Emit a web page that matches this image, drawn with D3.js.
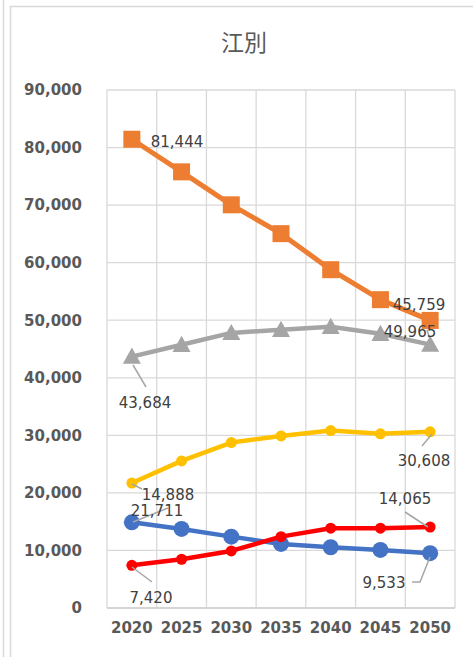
<!DOCTYPE html>
<html><head><meta charset="utf-8">
<script src="https://cdn.jsdelivr.net/npm/d3@7"></script>
<style>body{margin:0;background:#fff;}svg{display:block;}</style>
</head><body>
<script>
const years = ["2020","2025","2030","2035","2040","2045","2050"];
const yTicks = [0,10000,20000,30000,40000,50000,60000,70000,80000,90000];
const blue   = [14888,13740,12400,11130,10550,10090,9533];
const orange = [81444,75780,70050,65040,58780,53570,49965];
const gray   = [43684,45740,47800,48350,48870,47650,45759];
const yellow = [21711,25560,28750,29900,30830,30260,30608];
const red    = [7420,8470,9910,12400,13860,13860,14065];
const title = "江別";

const W=473,H=657;
const svg=d3.select("body").append("svg").attr("width",W).attr("height",H);
// frame
svg.append("line").attr("x1",3.5).attr("x2",3.5).attr("y1",0).attr("y2",H).attr("stroke","#d9d9d9").attr("stroke-width",1.5);
svg.append("line").attr("x1",10.5).attr("x2",10.5).attr("y1",6).attr("y2",H).attr("stroke","#d9d9d9").attr("stroke-width",1.5);
svg.append("line").attr("x1",10).attr("x2",W).attr("y1",6.5).attr("y2",6.5).attr("stroke","#d9d9d9").attr("stroke-width",1.5);

svg.append("text").attr("x",244).attr("y",51).attr("text-anchor","middle")
  .attr("font-family","'Noto Sans CJK JP'").attr("font-size",23).attr("fill","#595959").text(title);

const x=d3.scaleBand().domain(years).range([107,455]);
const y=d3.scaleLinear().domain([0,90000]).range([608,90]);
const cx=d=>x(d)+x.bandwidth()/2;

const g=svg.append("g");
g.selectAll(".hg").data(yTicks).join("line").attr("x1",107).attr("x2",455)
  .attr("y1",d=>y(d)).attr("y2",d=>y(d)).attr("stroke","#d9d9d9").attr("stroke-width",1.3);
const bounds=years.map(d=>x(d)).concat([455]);
g.selectAll(".vg").data(bounds).join("line").attr("x1",d=>d).attr("x2",d=>d)
  .attr("y1",90).attr("y2",608).attr("stroke","#d9d9d9").attr("stroke-width",1.3);

const ya=d3.axisLeft(y).tickValues(yTicks).tickFormat(d3.format(",")).tickSize(0).tickPadding(0);
const yg=svg.append("g").attr("transform","translate(82,0)").call(ya);
yg.select(".domain").remove();
yg.selectAll("text").attr("font-family","'DejaVu Sans'").attr("font-weight","bold").attr("font-size",15).attr("fill","#595959");
const xa=d3.axisBottom(x).tickSize(0).tickPadding(0);
const xg=svg.append("g").attr("transform","translate(0,622)").call(xa);
xg.select(".domain").remove();
xg.selectAll("text").attr("font-family","'DejaVu Sans'").attr("font-weight","bold").attr("font-size",15).attr("fill","#595959");
svg.append("line").attr("x1",107).attr("x2",455).attr("y1",608).attr("y2",608).attr("stroke","#d0d0d0").attr("stroke-width",1.5);

const series=[
  {v:blue,c:"#4472C4",m:"circle",r:8,w:4.5},
  {v:orange,c:"#ED7D31",m:"square",r:8.5,w:5},
  {v:gray,c:"#A5A5A5",m:"triangle",r:9,w:4.5},
  {v:yellow,c:"#FFC000",m:"circle",r:5.5,w:4.5},
  {v:red,c:"#FF0000",m:"circle",r:5.5,w:4.5}
];
const line=d3.line().x((d,i)=>cx(years[i])).y(d=>y(d));
series.forEach(s=>{
  svg.append("path").attr("d",line(s.v)).attr("fill","none").attr("stroke",s.c).attr("stroke-width",s.w).attr("stroke-linejoin","round");
  const pts=svg.append("g");
  s.v.forEach((d,i)=>{
    const px=cx(years[i]),py=y(d);
    if(s.m==="circle") pts.append("circle").attr("cx",px).attr("cy",py).attr("r",s.r).attr("fill",s.c);
    else if(s.m==="square") pts.append("rect").attr("x",px-s.r).attr("y",py-s.r).attr("width",2*s.r).attr("height",2*s.r).attr("fill",s.c);
    else pts.append("path").attr("d",`M${px},${py-s.r}L${px+s.r},${py+s.r*0.8}L${px-s.r},${py+s.r*0.8}Z`).attr("fill",s.c);
  });
});

const leaders=[
  [[146,387],[133,365]],
  [[142,489],[132,484]],
  [[168,508],[133,522]],
  [[152,582],[132,567]],
  [[412,582],[420,582],[430,557]],
  [[405,512],[428,527]],
  [[422,446],[432,434]],
  [[427,330],[432,345]]
];
leaders.forEach(p=>svg.append("path").attr("d",d3.line()(p)).attr("fill","none").attr("stroke","#a6a6a6").attr("stroke-width",1.5));

const labels=[
  [orange[0],177,142],
  [gray[0],145,403],
  [blue[0],168,495],
  [yellow[0],157,511],
  [red[0],151,598],
  [blue[6],384,583],
  [red[6],405,499],
  [yellow[6],424,461],
  [gray[6],419,305],
  [orange[6],410,332]
];
svg.append("g").selectAll("text").data(labels).join("text")
  .attr("x",d=>d[1]).attr("y",d=>d[2]).attr("dy","0.35em").attr("text-anchor","middle")
  .attr("font-family","'DejaVu Sans'").attr("font-size",15).attr("fill","#404040")
  .text(d=>d3.format(",")(d[0]));
</script>
</body></html>
